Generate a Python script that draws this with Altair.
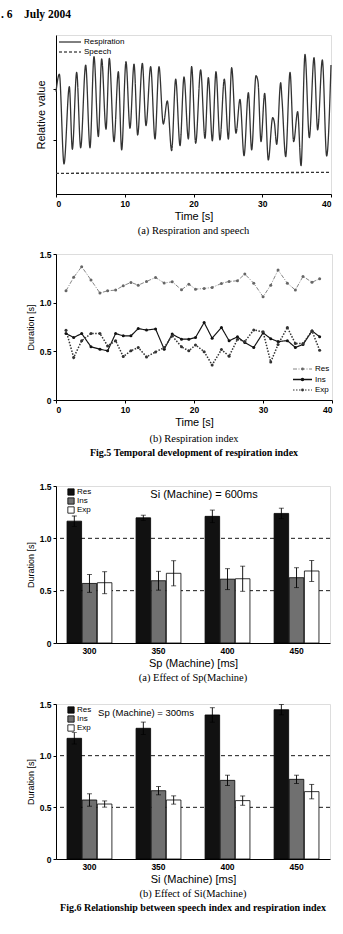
import altair as alt
import pandas as pd

SANS = "Liberation Sans"
SERIF = "Liberation Serif"

# ---------- Fig.5 (a) respiration waveform (peaks / troughs)
resp_t = [0, 0.485, 1.164, 1.94, 2.376, 3.006, 3.588, 4.315, 4.945, 5.527, 6.158, 6.642,
          7.273, 7.758, 8.436, 9.067, 9.552, 10.18, 10.76, 11.35, 11.88, 12.56, 13.09,
          13.77, 14.40, 14.98, 15.61, 16.19, 16.82, 17.41, 18.04, 18.62, 19.25, 19.73,
          20.32, 21.04, 21.67, 22.16, 22.74, 23.27, 23.85, 24.48, 25.07, 25.55, 26.18,
          26.76, 27.35, 27.98, 28.46, 29.09, 29.38, 29.82, 30.35, 30.88, 31.52, 31.76,
          32.10, 32.68, 32.87, 33.41, 34.04, 34.57, 35.15, 35.64, 36.22, 36.85, 37.53,
          38.06, 38.74, 39.37, 40.0]
resp_v = [0.644, 0.753, 0.189, 0.675, 0.281, 0.765, 0.291, 0.811, 0.291, 0.864, 0.361, 0.849,
          0.407, 0.853, 0.329, 0.769, 0.277, 0.832, 0.413, 0.816, 0.371, 0.822, 0.430,
          0.801, 0.346, 0.801, 0.440, 0.585, 0.273, 0.723, 0.304, 0.736, 0.346, 0.801,
          0.319, 0.780, 0.350, 0.732, 0.335, 0.769, 0.340, 0.723, 0.346, 0.795, 0.382,
          0.595, 0.241, 0.637, 0.277, 0.744, 0.707, 0.329, 0.633, 0.214, 0.480, 0.451,
          0.312, 0.700, 0.597, 0.235, 0.765, 0.329, 0.518, 0.178, 0.878, 0.354, 0.857,
          0.403, 0.843, 0.239, 0.811]
speech_t = [0, 40]
speech_v = [0.13, 0.136]
header_text = [". 6\u00a0\u00a0\u00a0\u00a0July\u00a02004"]

# ---------- Fig.5 (b) respiration index
idx_t = [1.45, 2.56, 3.72, 5.07, 6.37, 7.48, 8.64, 9.75, 10.86, 11.92, 13.12, 14.43,
         15.68, 16.84, 18.19, 19.25, 20.22, 21.47, 22.63, 23.98, 25.09, 26.30, 27.36,
         28.66, 30.01, 31.12, 32.18, 33.53, 34.69, 35.80, 37.10, 38.21]
res_v = [1.122, 1.26, 1.37, 1.233, 1.099, 1.122, 1.129, 1.174, 1.208, 1.18, 1.218, 1.259,
         1.201, 1.215, 1.132, 1.19, 1.139, 1.146, 1.156, 1.198, 1.218, 1.225, 1.294,
         1.20, 1.06, 1.18, 1.335, 1.20, 1.13, 1.27, 1.21, 1.245]
ins_v = [0.683, 0.642, 0.683, 0.546, 0.522, 0.505, 0.683, 0.659, 0.659, 0.734, 0.718, 0.73,
         0.522, 0.677, 0.625, 0.625, 0.642, 0.796, 0.635, 0.745, 0.608, 0.649, 0.59,
         0.54, 0.69, 0.63, 0.60, 0.61, 0.54, 0.57, 0.71, 0.65]
exp_v = [0.717, 0.436, 0.608, 0.683, 0.683, 0.556, 0.608, 0.446, 0.505, 0.539, 0.443, 0.494,
         0.539, 0.659, 0.546, 0.505, 0.566, 0.497, 0.36, 0.518, 0.45, 0.625, 0.60,
         0.72, 0.70, 0.39, 0.57, 0.745, 0.58, 0.58, 0.71, 0.51]

# ---------- Fig.6 bar data
cats = ["300", "350", "400", "450"]
SERIES = ["Res", "Ins", "Exp"]
a_res = [1.164, 1.196, 1.21, 1.238]
a_res_e = [0.05, 0.025, 0.06, 0.05]
a_ins = [0.569, 0.595, 0.61, 0.624]
a_ins_e = [0.085, 0.09, 0.1, 0.095]
a_exp = [0.576, 0.666, 0.614, 0.688]
a_exp_e = [0.105, 0.12, 0.12, 0.1]

b_res = [1.168, 1.265, 1.394, 1.445]
b_res_e = [0.055, 0.06, 0.07, 0.05]
b_ins = [0.571, 0.661, 0.761, 0.771]
b_ins_e = [0.06, 0.04, 0.05, 0.04]
b_exp = [0.532, 0.571, 0.565, 0.652]
b_exp_e = [0.03, 0.04, 0.045, 0.07]

grid_lines = [0.5, 1.0]

# line styles
DASH1 = {"Respiration": [1, 0], "Speech": [3, 2]}
COL2 = {"Res": "#666", "Ins": "#111", "Exp": "#333"}
DASH2 = {"Res": [4, 1.5, 1, 1.5], "Ins": [1, 0], "Exp": [1.5, 1.5]}
WID2 = {"Res": 0.8, "Ins": 1.5, "Exp": 1.0}


def ax(**kw):
    base = dict(labelFont=SANS, titleFont=SANS, labelColor="black", titleColor="black",
                domainColor="black", tickColor="black", titleFontWeight="normal",
                labelFontWeight="bold", labelFontSize=8.5, grid=False)
    base.update(kw)
    return alt.Axis(**base)


def dur_axis():
    return ax(values=[0, 0.5, 1.0, 1.5], title="Duration [s]", titleFontSize=9,
              tickSize=3, labelPadding=2, titlePadding=4,
              labelExpr="datum.value == 0 ? '0' : format(datum.value, '.1f')")


def caption(text, subtitle=None, offset=4):
    kw = dict(text=text, orient="bottom", font=SERIF, fontSize=10.5, fontWeight="normal",
              color="black", offset=offset)
    if subtitle:
        kw.update(subtitle=subtitle, subtitleFont=SERIF, subtitleFontSize=10,
                  subtitleFontWeight="bold", subtitleColor="black", subtitlePadding=4)
    return alt.TitleParams(**kw)


def indep(c):
    return c.resolve_scale(color="independent", fill="independent",
                           strokeDash="independent", strokeWidth="independent",
                           x="independent", y="independent").resolve_legend(
        color="independent", fill="independent", strokeDash="independent",
        strokeWidth="independent")


def legend_entry(label, x0, x1, y, dash, width=1.0, color="black", point=False, psize=9):
    """A hand-drawn legend row (line sample + label) placed in pixel space."""
    one = pd.DataFrame({"l": [label]})
    parts = [
        alt.Chart(one).mark_rule(strokeDash=dash, strokeWidth=width, color=color).encode(
            x=alt.value(x0), x2=alt.value(x1), y=alt.value(y)),
        alt.Chart(one).mark_text(font=SANS, fontSize=8, align="left", baseline="middle",
                                 color="black").encode(
            text="l:N", x=alt.value(x1 + 3), y=alt.value(y)),
    ]
    if point:
        parts.append(alt.Chart(one).mark_point(filled=True, size=psize, color=color,
                                               opacity=1).encode(
            x=alt.value((x0 + x1) / 2), y=alt.value(y)))
    return parts


# ---------- panel 1
df1 = pd.concat([
    pd.DataFrame({"t": resp_t, "v": resp_v, "s": "Respiration"}),
    pd.DataFrame({"t": speech_t, "v": speech_v, "s": "Speech"}),
])
lines1 = alt.Chart(df1).mark_line(interpolate="monotone", color="#333", strokeWidth=1.3).encode(
    x=alt.X("t:Q", scale=alt.Scale(domain=[0, 40], nice=False),
            axis=ax(values=[0, 10, 20, 30, 40], title="Time [s]", titleFontSize=11,
                    tickSize=3, labelPadding=2, titlePadding=3)),
    y=alt.Y("v:Q", scale=alt.Scale(domain=[0, 1]),
            axis=ax(values=[0.34, 0.66], labels=False, title="Relative value",
                    titleFontSize=11, tickSize=3, titlePadding=6)),
    strokeDash=alt.StrokeDash("s:N", scale=alt.Scale(domain=list(DASH1),
                                                     range=list(DASH1.values())),
                              legend=None),
)
header = alt.Chart(pd.DataFrame({"h": header_text})).mark_text(
    font=SERIF, fontSize=11.5, fontWeight="bold", align="left", baseline="middle",
    color="black").encode(text="h:N", x=alt.value(-55), y=alt.value(-20))
leg1 = (legend_entry("Respiration", 3, 25, 7, DASH1["Respiration"], 1.0)
        + legend_entry("Speech", 3, 25, 17, DASH1["Speech"], 1.0))
p1 = alt.layer(lines1, header, *leg1).properties(width=275, height=159,
                                                 title=caption("(a) Respiration and speech"))

# ---------- panel 2
rows = []
for s, vals in (("Res", res_v), ("Ins", ins_v), ("Exp", exp_v)):
    for t, v in zip(idx_t, vals):
        rows.append({"t": t, "v": v, "s": s})
df2 = pd.DataFrame(rows)
base2 = alt.Chart(df2).encode(
    x=alt.X("t:Q", scale=alt.Scale(domain=[0, 40], nice=False),
            axis=ax(values=[0, 10, 20, 30, 40], title="Time [s]", titleFontSize=11,
                    tickSize=3, labelPadding=2, titlePadding=3)),
    y=alt.Y("v:Q", scale=alt.Scale(domain=[0, 1.5]), axis=dur_axis()),
    color=alt.Color("s:N", scale=alt.Scale(domain=SERIES, range=[COL2[s] for s in SERIES]),
                    legend=None),
    strokeDash=alt.StrokeDash("s:N", scale=alt.Scale(domain=SERIES,
                                                     range=[DASH2[s] for s in SERIES]),
                              legend=None),
    strokeWidth=alt.StrokeWidth("s:N", scale=alt.Scale(domain=SERIES,
                                                       range=[WID2[s] for s in SERIES]),
                                legend=None),
)
leg2 = []
for i, s in enumerate(SERIES):
    leg2 += legend_entry(s, 237, 256, 115 + 10.5 * i, DASH2[s], WID2[s], COL2[s],
                         point=True, psize=12 if s == "Ins" else 8)
p2 = alt.layer(
    base2.mark_line(),
    base2.mark_point(filled=True, size=9, opacity=1),
    *leg2,
).properties(width=276, height=146,
             title=caption("(b) Respiration index",
                           "Fig.5 Temporal development of respiration index", offset=6))


# ---------- bar panels
def bar_panel(res, res_e, ins, ins_e, exp, exp_e, xtitle, cap, note, note_x, note_size, height):
    rows = []
    for s, m, e in (("Res", res, res_e), ("Ins", ins, ins_e), ("Exp", exp, exp_e)):
        for c, mv, ev in zip(cats, m, e):
            rows.append({"cat": c, "s": s, "mean": mv, "lo": mv - ev, "hi": mv + ev})
    df = pd.DataFrame(rows)
    x = alt.X("cat:N", sort=cats, scale=alt.Scale(paddingInner=0.35, paddingOuter=0.16),
              axis=ax(title=xtitle, labelAngle=0, titleFontSize=11, tickSize=0,
                      labelPadding=3, titlePadding=3))
    xo = alt.XOffset("s:N", sort=SERIES, scale=alt.Scale(domain=SERIES, paddingInner=0.04))
    yscale = alt.Scale(domain=[0, 1.5])
    grid = alt.Chart(pd.DataFrame({"g": grid_lines})).mark_rule(
        strokeDash=[4, 3], color="black", strokeWidth=0.9).encode(
        y=alt.Y("g:Q", scale=yscale, axis=dur_axis()))
    bars = alt.Chart(df).mark_bar(stroke="black", strokeWidth=0.8).encode(
        x=x, xOffset=xo,
        y=alt.Y("mean:Q", scale=yscale, axis=dur_axis()),
        fill=alt.Fill("s:N", scale=alt.Scale(domain=SERIES, range=["#111", "#707070", "white"]),
                      legend=alt.Legend(title=None, orient="none", legendX=11, legendY=2,
                                        symbolType="square",
                                        symbolSize=40, symbolStrokeColor="black",
                                        symbolStrokeWidth=0.8, padding=0,
                                        rowPadding=-3, labelFontSize=8, labelFont=SANS,
                                        labelOffset=2)),
    )
    err = alt.Chart(df).mark_rule(color="black", strokeWidth=0.9).encode(
        x=x, xOffset=xo, y=alt.Y("lo:Q", scale=yscale, axis=dur_axis()), y2="hi:Q")
    cap_hi = alt.Chart(df).mark_tick(color="black", size=5, thickness=0.9).encode(
        x=x, xOffset=xo, y=alt.Y("hi:Q", scale=yscale, axis=dur_axis()))
    cap_lo = alt.Chart(df).mark_tick(color="black", size=5, thickness=0.9).encode(
        x=x, xOffset=xo, y=alt.Y("lo:Q", scale=yscale, axis=dur_axis()))
    txt = alt.Chart(pd.DataFrame({"n": [note]})).mark_text(
        font=SANS, fontSize=note_size, align="center", baseline="middle", color="black").encode(
        text="n:N", x=alt.value(note_x), y=alt.value(9))
    return alt.layer(grid, bars, err, cap_hi, cap_lo, txt).properties(
        width=274, height=height, title=cap)


p3 = bar_panel(a_res, a_res_e, a_ins, a_ins_e, a_exp, a_exp_e, "Sp (Machine) [ms]",
               caption("(a) Effect of Sp(Machine)", offset=4), "Si (Machine) = 600ms",
               148, 11, 157)
p4 = bar_panel(b_res, b_res_e, b_ins, b_ins_e, b_exp, b_exp_e, "Si (Machine) [ms]",
               caption("(b) Effect of Si(Machine)",
                       "Fig.6 Relationship between speech index and respiration index"),
               "Sp (Machine) = 300ms", 90, 9.5, 155)

top = indep(alt.vconcat(p1, p2, spacing=12))
bottom = indep(alt.vconcat(p3, p4, spacing=15))
chart = indep(alt.vconcat(top, bottom, spacing=22)).properties(
    padding={"left": 0, "top": 8, "right": 6, "bottom": 4},
).configure_view(stroke="black", strokeWidth=1).configure(background="white")

chart.save("out.html", embed_options={"renderer": "svg", "actions": False})
